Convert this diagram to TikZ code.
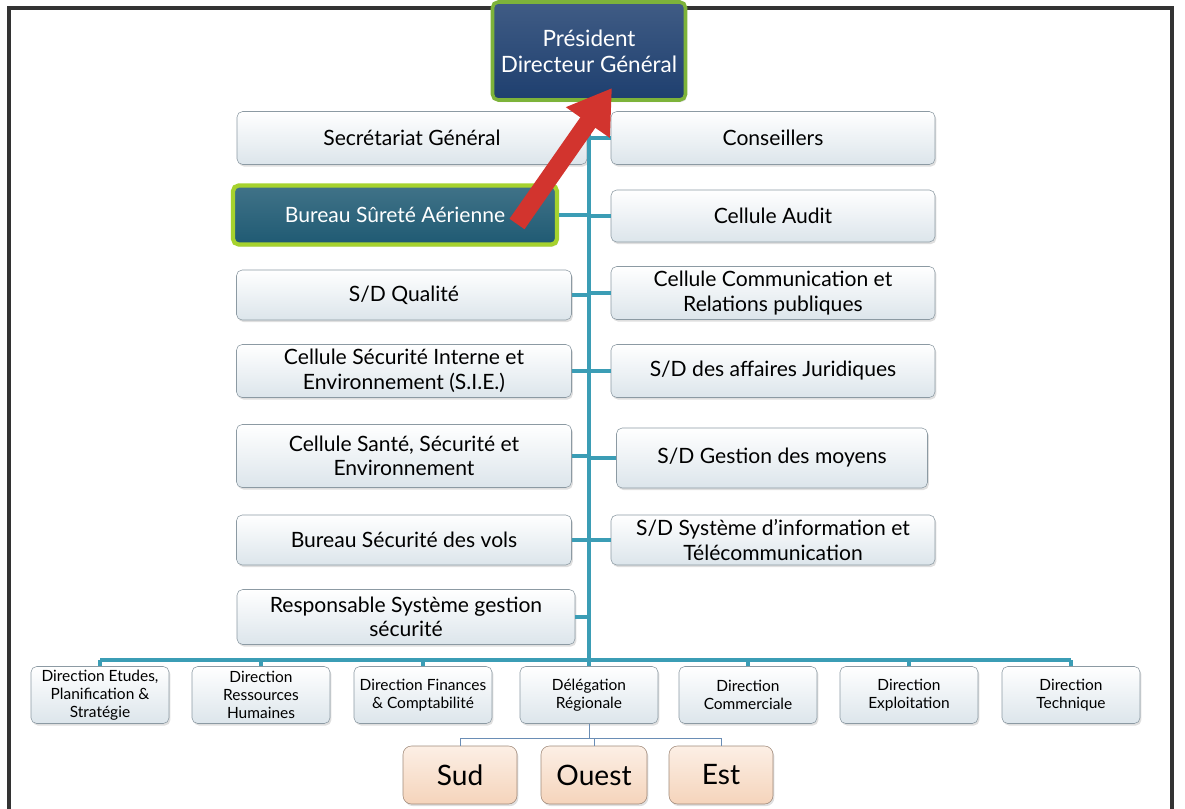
\documentclass[tikz,border=0pt]{standalone}
\usepackage{fontspec}
\setmainfont{Lato}
\usetikzlibrary{calc,arrows.meta,shadows}

\definecolor{trunk}{HTML}{3B9DB5}
\definecolor{boxline}{HTML}{8C9AA3}
\definecolor{boxfill}{HTML}{DCE5EB}
\definecolor{navy}{HTML}{1E3F6F}
\definecolor{leafgreen}{HTML}{7DB33A}
\definecolor{tealdark}{HTML}{1F5A73}
\definecolor{limegreen}{HTML}{A6D22E}
\definecolor{peachtop}{HTML}{FCEFE5}
\definecolor{peachbot}{HTML}{F5D4BB}
\definecolor{peachline}{HTML}{A08A7A}
\definecolor{arrowred}{HTML}{D2342E}
\definecolor{subline}{HTML}{6A8DB5}

\tikzset{
  wh/.style 2 args={minimum width=#1*0.025cm, minimum height=#2*0.025cm},
  unit/.style={draw=boxline, top color=white, bottom color=boxfill,
    rounded corners=4pt, align=center, inner sep=0pt, text=black,
    font=\fontsize{15}{17.5}\selectfont,
    drop shadow={opacity=0.25, shadow xshift=1pt, shadow yshift=-1.5pt}},
  dirbox/.style={unit, font=\fontsize{11}{12.8}\selectfont},
  pdgbox/.style={unit, draw=leafgreen, line width=2.5pt, top color=navy!85,
    bottom color=navy, text=white, font=\fontsize{16}{18.5}\selectfont},
  surete/.style={unit, draw=limegreen, line width=3pt, top color=tealdark!85,
    bottom color=tealdark, text=white},
  region/.style={unit, draw=peachline, top color=peachtop, bottom color=peachbot,
    rounded corners=6pt, font=\fontsize{20}{24}\selectfont},
  trunkline/.style={trunk, line width=2.2pt},
  subbranch/.style={subline, line width=0.7pt},
  redarrow/.style={arrowred, line width=13pt, -{Triangle[width=36pt,length=30pt]}},
}

\begin{document}
\begin{tikzpicture}[x=0.025cm, y=-0.025cm]
    \useasboundingbox (0,0) rectangle (1185,809);

    % Outer frame
    \draw[line width=2.2pt, black!80] (9,809) -- (9,8) -- (1172,8) -- (1172,809);

    % Top of the chart
    \node[pdgbox, wh={193}{98}] (pdg) at (589,51) {Président\\Directeur Général};

    % Left column
    \node[unit, wh={350}{53}] (sg) at (412,138) {Secrétariat Général};
    \node[surete, wh={324}{59}] (bsa) at (395,215) {Bureau Sûreté Aérienne};
    \node[unit, wh={335}{50}] (qual) at (404,295) {S/D Qualité};
    \node[unit, wh={335}{53}] (sie) at (404,371) {Cellule Sécurité Interne et\\Environnement (S.I.E.)};
    \node[unit, wh={335}{63}] (sante) at (404,456) {Cellule Santé, Sécurité et\\Environnement};
    \node[unit, wh={335}{50}] (vols) at (404,540) {Bureau Sécurité des vols};
    \node[unit, wh={338}{55}] (rsgs) at (406,617) {Responsable Système gestion\\sécurité};

    % Right column
    \node[unit, wh={324}{53}] (cons) at (773,138) {Conseillers};
    \node[unit, wh={324}{52}] (audit) at (773,216) {Cellule Audit};
    \node[unit, wh={324}{53}] (comm) at (773,293) {Cellule Communication  et\\Relations publiques};
    \node[unit, wh={324}{53}] (jur) at (773,371) {S/D des affaires Juridiques};
    \node[unit, wh={311}{60}] (moyens) at (772,458) {S/D Gestion des moyens};
    \node[unit, wh={324}{50}] (sys) at (773,540) {S/D Système d’information et\\Télécommunication};

    % Directions
    \coordinate (bus) at (0,660);
    \foreach \n/\x/\t in {d1/100/{Direction Etudes,\\Planification \&\\Stratégie},
                          d2/261/{Direction\\Ressources\\Humaines},
                          d3/423/{Direction Finances\\\& Comptabilité},
                          deleg/589/{Délégation\\Régionale},
                          d5/748/{Direction\\Commerciale},
                          d6/909/{Direction\\Exploitation},
                          d7/1071/{Direction\\Technique}}
        \node[dirbox, wh={138}{57}] (\n) at (\x,695) {\t};

    % Regions
    \node[region, wh={114}{58}] (sud) at (460,775) {Sud};
    \node[region, wh={106}{58}] (ouest) at (594,775) {Ouest};
    \node[region, wh={104}{58}] (est) at (721,775) {Est};

    % Draw trunk and branches
    \draw[trunkline] (pdg.south) -- (pdg.south |- bus);
    \foreach \n in {sg,bsa,qual,sie,sante,vols,rsgs}
        \draw[trunkline] (\n.east) -- (\n.east -| pdg.south);
    \foreach \n in {cons,audit,comm,jur,moyens,sys}
        \draw[trunkline] (\n.west) -- (\n.west -| pdg.south);
    \draw[trunkline] (d1.north |- bus) -- (d7.north |- bus);
    \foreach \n in {d1,d2,d3,deleg,d5,d6,d7}
        \draw[trunkline] (\n.north) -- (\n.north |- bus);

    % Draw links to regions
    \coordinate (rj) at (0,738);
    \draw[subbranch] (deleg.south) -- (deleg.south |- rj);
    \draw[subbranch] (sud.north) -- (sud.north |- rj) -- (est.north |- rj) -- (est.north);
    \draw[subbranch] (ouest.north) -- (ouest.north |- rj);

    % Red arrow
    \coordinate (atail) at (517,224);
    \coordinate (ahead) at (612,88);
    \draw[redarrow] (atail) -- (ahead);
\end{tikzpicture}
\end{document}
